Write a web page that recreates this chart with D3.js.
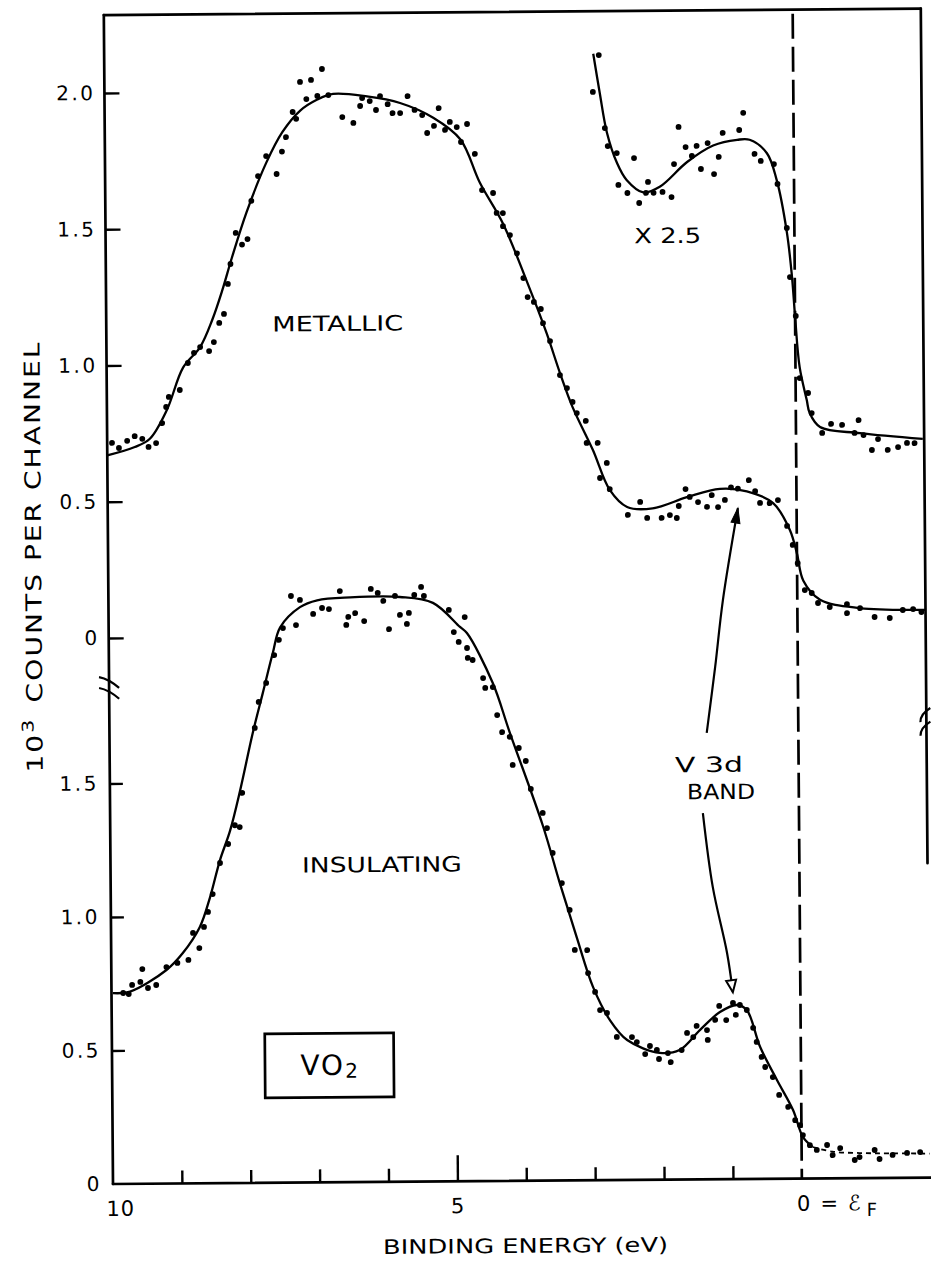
<!DOCTYPE html>
<html><head><meta charset="utf-8">
<script src="https://cdn.jsdelivr.net/npm/d3@7"></script>
<style>
html,body{margin:0;padding:0;background:#fff;}
svg{display:block;}
text{font-family:"DejaVu Sans",sans-serif;fill:#000;}
</style></head><body>
<svg id="chart" width="931" height="1265"></svg>
<script>
// ---------------- DATA ----------------
// binding energy (eV), value in 10^3 counts/channel (upper panel scale)
const metallicCurve = [[10.0,0.67],[9.6,0.70],[9.38,0.73],[9.13,0.835],[8.89,0.99],[8.64,1.065],[8.46,1.165],[8.31,1.274],[8.17,1.391],[7.95,1.559],[7.66,1.739],[7.42,1.852],[7.16,1.93],[6.91,1.97],[6.68,1.99],[6.19,1.98],[5.71,1.955],[5.23,1.90],[4.84,1.82],[4.56,1.66],[4.23,1.51],[3.88,1.29],[3.61,1.107],[3.42,0.96],[3.24,0.834],[2.95,0.676],[2.71,0.529],[2.46,0.466],[2.09,0.46],[1.59,0.50],[1.11,0.53],[0.72,0.52],[0.34,0.476],[0.10,0.377],[0.0,0.29],[-0.09,0.19],[-0.33,0.12],[-0.91,0.088],[-1.86,0.08]];
const metallicDots = [[9.93,0.716],[9.83,0.697],[9.71,0.723],[9.60,0.74],[9.49,0.73],[9.40,0.70],[9.29,0.714],[9.20,0.787],[9.14,0.846],[9.10,0.883],[8.94,0.908],[8.82,1.007],[8.73,1.044],[8.64,1.065],[8.51,1.05],[8.44,1.083],[8.36,1.153],[8.29,1.186],[8.23,1.296],[8.19,1.369],[8.11,1.483],[8.02,1.44],[7.94,1.46],[7.88,1.60],[7.78,1.691],[7.66,1.764],[7.51,1.698],[7.43,1.78],[7.37,1.833],[7.27,1.925],[7.22,1.90],[7.16,2.035],[7.07,1.972],[7.00,2.042],[6.91,1.983],[6.84,2.082],[6.75,1.986],[6.55,1.905],[6.39,1.883],[6.29,1.945],[6.26,1.974],[6.15,1.963],[6.06,1.93],[6.00,1.981],[5.89,1.951],[5.82,1.918],[5.71,1.918],[5.60,1.98],[5.50,1.929],[5.39,1.91],[5.32,1.844],[5.22,1.87],[5.15,1.935],[5.06,1.855],[4.99,1.884],[4.89,1.865],[4.83,1.81],[4.74,1.876],[4.63,1.766],[4.53,1.633],[4.37,1.622],[4.32,1.549],[4.23,1.548],[4.23,1.50],[4.13,1.467],[4.03,1.40],[3.94,1.309],[3.88,1.239],[3.79,1.221],[3.69,1.195],[3.66,1.143],[3.56,1.077],[3.42,0.952],[3.32,0.904],[3.24,0.853],[3.18,0.812],[3.05,0.783],[3.04,0.702],[2.88,0.702],[2.75,0.628],[2.85,0.573],[2.71,0.532],[2.45,0.437],[2.27,0.484],[2.17,0.425],[1.96,0.425],[1.84,0.435],[1.74,0.424],[1.71,0.468],[1.61,0.53],[1.55,0.501],[1.43,0.482],[1.30,0.464],[1.23,0.507],[1.14,0.463],[1.04,0.489],[0.95,0.535],[0.85,0.53],[0.69,0.561],[0.60,0.52],[0.53,0.477],[0.39,0.476],[0.27,0.487],[0.14,0.392],[0.06,0.322],[-0.01,0.255],[-0.11,0.156],[-0.21,0.145],[-0.30,0.108],[-0.47,0.093],[-0.72,0.103],[-0.72,0.07],[-0.91,0.088],[-1.12,0.055],[-1.34,0.051],[-1.53,0.08],[-1.68,0.083],[-1.80,0.072]];
// x 2.5 expanded metallic spectrum (upper panel scale)
const x25Curve = [[2.90,2.13],[2.81,1.986],[2.71,1.84],[2.57,1.73],[2.43,1.666],[2.19,1.62],[1.95,1.64],[1.55,1.73],[1.17,1.79],[0.82,1.81],[0.64,1.81],[0.39,1.76],[0.25,1.66],[0.11,1.47],[0.04,1.305],[0.0,1.16],[-0.06,0.975],[-0.16,0.853],[-0.20,0.806],[-0.35,0.754],[-0.93,0.73],[-1.84,0.707]];
const x25Dots = [[2.82,2.125],[2.91,1.99],[2.74,1.857],[2.70,1.791],[2.57,1.765],[2.32,1.746],[2.55,1.648],[2.42,1.618],[2.25,1.581],[2.12,1.658],[2.15,1.618],[2.04,1.618],[1.91,1.621],[1.78,1.602],[1.74,1.723],[1.67,1.859],[1.57,1.785],[1.48,1.752],[1.41,1.789],[1.35,1.704],[1.25,1.799],[1.16,1.685],[1.09,1.748],[1.03,1.836],[0.79,1.846],[0.73,1.909],[0.57,1.758],[0.48,1.732],[0.29,1.72],[0.24,1.647],[0.11,1.485],[0.07,1.305],[-0.01,1.162],[-0.06,0.934],[-0.18,0.879],[-0.23,0.805],[-0.38,0.732],[-0.51,0.765],[-0.67,0.761],[-0.91,0.778],[-0.85,0.731],[-0.98,0.723],[-1.10,0.668],[-1.19,0.708],[-1.33,0.668],[-1.48,0.678],[-1.61,0.693],[-1.72,0.692]];
// insulating spectrum (lower panel scale)
const insulatingCurve = [[9.98,0.715],[9.73,0.72],[9.20,0.80],[8.96,0.863],[8.71,0.96],[8.56,1.07],[8.41,1.21],[8.26,1.32],[8.11,1.47],[7.92,1.685],[7.77,1.834],[7.62,1.984],[7.51,2.08],[7.22,2.155],[6.97,2.18],[6.49,2.19],[5.77,2.19],[5.29,2.167],[4.90,2.076],[4.80,2.053],[4.43,1.865],[4.19,1.68],[3.72,1.33],[3.48,1.114],[3.24,0.91],[3.01,0.724],[2.77,0.60],[2.52,0.524],[2.05,0.475],[1.76,0.485],[1.46,0.56],[1.17,0.626],[0.92,0.652],[0.78,0.633],[0.59,0.494],[0.35,0.37],[0.12,0.257],[-0.02,0.156],[-0.16,0.118]];
const insulatingTail = [[-0.16,0.118],[-0.45,0.10],[-0.84,0.094],[-1.30,0.092],[-1.86,0.09]];
const insulatingDots = [[7.35,2.197],[7.22,2.182],[7.28,2.088],[7.47,2.077],[7.53,2.033],[7.60,1.976],[7.72,1.872],[7.83,1.801],[7.89,1.704],[8.08,1.461],[8.12,1.333],[8.19,1.34],[8.29,1.27],[8.41,1.199],[8.52,1.083],[8.59,1.016],[8.65,0.96],[8.81,0.938],[8.72,0.881],[8.88,0.837],[9.04,0.826],[9.20,0.811],[9.35,0.744],[9.47,0.733],[9.55,0.804],[9.58,0.756],[9.70,0.745],[9.75,0.711],[9.83,0.715],[7.03,2.129],[6.90,2.151],[6.80,2.147],[6.64,2.214],[6.52,2.117],[6.55,2.087],[6.42,2.131],[6.29,2.101],[6.19,2.221],[6.09,2.206],[6.01,2.176],[5.93,2.07],[5.84,2.194],[5.77,2.123],[5.67,2.089],[5.64,2.13],[5.56,2.197],[5.46,2.227],[5.42,2.193],[5.06,2.14],[4.99,2.057],[4.92,2.02],[4.83,2.113],[4.80,1.997],[4.79,1.96],[4.72,1.952],[4.57,1.884],[4.54,1.847],[4.43,1.85],[4.37,1.745],[4.30,1.681],[4.19,1.663],[4.15,1.558],[4.06,1.621],[3.96,1.572],[3.89,1.467],[3.72,1.377],[3.66,1.32],[3.58,1.227],[3.45,1.114],[3.34,1.013],[3.27,0.863],[3.09,0.862],[3.08,0.776],[2.98,0.705],[2.91,0.637],[2.81,0.626],[2.67,0.536],[2.45,0.535],[2.38,0.516],[2.19,0.501],[2.26,0.471],[2.09,0.486],[2.06,0.452],[1.89,0.44],[1.93,0.474],[1.73,0.485],[1.65,0.549],[1.56,0.533],[1.51,0.575],[1.35,0.522],[1.36,0.559],[1.24,0.597],[1.18,0.649],[1.08,0.596],[0.98,0.66],[0.88,0.652],[0.94,0.615],[0.78,0.633],[0.69,0.566],[0.64,0.513],[0.57,0.457],[0.52,0.419],[0.41,0.381],[0.32,0.314],[0.19,0.269],[0.09,0.219],[0.02,0.2],[-0.02,0.163],[-0.12,0.125],[-0.22,0.107],[-0.37,0.125],[-0.45,0.087],[-0.56,0.113],[-0.77,0.068],[-0.84,0.079],[-1.06,0.105],[-1.13,0.071],[-1.32,0.086],[-1.53,0.093],[-1.72,0.096]];
// annotation arrows (eV, lower-panel value)
const upArrow = [[1.33,1.672],[1.20,1.919],[1.08,2.169],[0.852,2.513]];
const downArrow = [[1.395,1.372],[1.26,1.095],[1.06,0.847],[0.98,0.70]];
// ticks
const xTickValues = [10,9,8,7,6,5,4,3,2,1];
const xTickLabels = ["10","","","","","5","","","",""];
const yTicksUpper = [0,0.5,1.0,1.5,2.0];
const yTickLabelsUpper = ["0","0.5","1.0","1.5","2.0"];
const yTicksLower = [0,0.5,1.0,1.5];
const yTickLabelsLower = ["0","0.5","1.0","1.5"];

// ---------------- CHART ----------------
const svg = d3.select("#chart");
svg.append("rect").attr("width",931).attr("height",1265).attr("fill","#fff");
const g = svg.append("g").attr("transform","rotate(-0.45,113,1184)");

const x  = d3.scaleLinear().domain([10,-1.86]).range([113,930]);
const yU = d3.scaleLinear().domain([0,2]).range([638,93]);
const yL = d3.scaleLinear().domain([0,1.5]).range([1184,783.5]);
const topV = 2.286;

// frame
const frame = g.append("g").attr("stroke","#000").attr("stroke-width",2.7).attr("fill","none").attr("stroke-linecap","round");
frame.append("line").attr("x1",x(10)).attr("x2",x(10)).attr("y1",yU(topV)).attr("y2",yL(0));
frame.append("line").attr("x1",x(10)).attr("x2",x(-1.86)).attr("y1",yU(topV)).attr("y2",yU(topV));
frame.append("line").attr("x1",x(-1.86)).attr("x2",x(-1.86)).attr("y1",yU(topV)).attr("y2",yU(-0.85));
frame.append("line").attr("x1",x(10)).attr("x2",935).attr("y1",yL(0)).attr("y2",yL(0));

// axis breaks
const brk = g.append("g").attr("stroke","#000").attr("stroke-width",2.2).attr("fill","none");
[-0.165,-0.205].forEach(v=>{
  const cx=x(10), cy=yU(v);
  brk.append("path").attr("d",`M${cx-10},${cy-6} Q${cx},${cy-4} ${cx+10},${cy+5}`);
});
[-0.31,-0.36].forEach(v=>{
  const cx=x(-1.86), cy=yU(v);
  brk.append("path").attr("d",`M${cx+4},${cy-8} Q${cx-6},${cy-2} ${cx-6},${cy+6}`);
});

// Fermi level dashed line
g.append("line").attr("x1",x(0)).attr("x2",x(0)).attr("y1",yU(topV)+4).attr("y2",yL(0))
  .attr("stroke","#000").attr("stroke-width",2.7).attr("stroke-dasharray","25,8");

// axes
function styleAxis(sel,fs){
  sel.select(".domain").remove();
  sel.attr("font-family","DejaVu Sans, sans-serif").attr("font-size",fs);
  sel.selectAll(".tick line").attr("stroke","#000").attr("stroke-width",2.4);
  sel.selectAll(".tick text").attr("fill","#000").attr("letter-spacing",2.5);
}
const gU = g.append("g").attr("transform",`translate(${x(10)},0)`)
  .call(d3.axisLeft(yU).tickValues(yTicksUpper).tickSize(-15).tickPadding(9).tickFormat((d,i)=>yTickLabelsUpper[i]));
styleAxis(gU,20);
const gL = g.append("g").attr("transform",`translate(${x(10)},0)`)
  .call(d3.axisLeft(yL).tickValues(yTicksLower).tickSize(-13).tickPadding(11).tickFormat((d,i)=>yTickLabelsLower[i]));
styleAxis(gL,20);
gL.selectAll(".tick line").attr("x2",d=>d===0?0:13);

const gB = g.append("g").attr("transform",`translate(0,${yL(0)})`)
  .call(d3.axisBottom(x).tickValues(xTickValues).tickSize(-13).tickPadding(17).tickFormat((d,i)=>xTickLabels[i]));
styleAxis(gB,21);
gB.selectAll(".tick line").attr("y2",d=>d===10?0:(d===5?-26:-13));
gB.selectAll(".tick text").attr("dx",d=>d===10?7:0).attr("letter-spacing",1);

// 0 = E_F label
const ef = g.append("text").attr("x",x(0)-5).attr("y",yL(0)+32).attr("font-size",21);
ef.append("tspan").text("0");
ef.append("tspan").attr("dx",10).text("=");
ef.append("tspan").attr("dx",10).text("ℰ");
ef.append("tspan").attr("dx",6).attr("dy",6).attr("font-size",18).text("F");

// axis titles
g.append("text").attr("x",525).attr("y",1256).attr("text-anchor","middle").attr("font-size",20)
  .attr("textLength",285).attr("lengthAdjust","spacingAndGlyphs").text("BINDING ENERGY (eV)");
const yt = g.append("text").attr("transform","translate(46,556) rotate(-90)").attr("text-anchor","middle").attr("font-size",22)
  .attr("letter-spacing",1.5).attr("textLength",432).attr("lengthAdjust","spacingAndGlyphs");
yt.append("tspan").text("10");
yt.append("tspan").attr("dy",-9).attr("font-size",16).text("3");
yt.append("tspan").attr("dy",9).attr("dx",12).text("COUNTS PER CHANNEL");

// curves
const lineU = d3.line().x(d=>x(d[0])).y(d=>yU(d[1])).curve(d3.curveCatmullRom.alpha(0.5));
const lineL = d3.line().x(d=>x(d[0])).y(d=>yL(d[1])).curve(d3.curveCatmullRom.alpha(0.5));
g.append("path").attr("d",lineU(metallicCurve)).attr("fill","none").attr("stroke","#000").attr("stroke-width",2.3);
g.append("path").attr("d",lineU(x25Curve)).attr("fill","none").attr("stroke","#000").attr("stroke-width",2.3);
g.append("path").attr("d",lineL(insulatingCurve)).attr("fill","none").attr("stroke","#000").attr("stroke-width",2.3);
g.append("path").attr("d",lineL(insulatingTail)).attr("fill","none").attr("stroke","#000").attr("stroke-width",1.8).attr("stroke-dasharray","5,4");

// dots
function dots(data,ys){
  g.append("g").selectAll("circle").data(data).join("circle")
    .attr("cx",d=>x(d[0])).attr("cy",d=>ys(d[1])).attr("r",2.9).attr("fill","#000");
}
dots(metallicDots,yU); dots(x25Dots,yU); dots(insulatingDots,yL);

// labels
function label(txt,ev,v,ys,fs,len){
  const t=g.append("text").attr("x",x(ev)).attr("y",ys(v)).attr("text-anchor","middle")
    .attr("dominant-baseline","central").attr("font-size",fs).text(txt);
  if(len) t.attr("textLength",len).attr("lengthAdjust","spacingAndGlyphs");
  return t;
}
label("METALLIC",6.64,1.146,yU,21,131);
label("X 2.5",1.84,1.459,yU,21,67);
label("INSULATING",6.06,1.187,yL,21,160);
label("V  3d",1.30,1.552,yL,21,68);
label("BAND",1.13,1.45,yL,21,68);

// VO2 box
g.append("rect").attr("x",x(7.78)).attr("y",yL(0.558)).attr("width",x(5.91)-x(7.78)).attr("height",yL(0.318)-yL(0.558))
  .attr("fill","none").attr("stroke","#000").attr("stroke-width",2.7);
const vo = g.append("text").attr("x",x(6.85)).attr("y",yL(0.44)).attr("text-anchor","middle")
  .attr("dominant-baseline","central").attr("font-size",28);
vo.append("tspan").attr("letter-spacing",2).text("VO");
vo.append("tspan").attr("dy",6).attr("font-size",20).text("2");

// arrows
const arrowLine = d3.line().x(d=>x(d[0])).y(d=>yL(d[1])).curve(d3.curveCatmullRom.alpha(0.5));
function head(data,len,wid){
  const n=data.length, p1=[x(data[n-2][0]),yL(data[n-2][1])], p2=[x(data[n-1][0]),yL(data[n-1][1])];
  const dx=p2[0]-p1[0], dy=p2[1]-p1[1], L=Math.hypot(dx,dy), ux=dx/L, uy=dy/L;
  const bx=p2[0]-ux*len, by=p2[1]-uy*len;
  return [[p2[0],p2[1]],[bx-uy*wid/2,by+ux*wid/2],[bx+uy*wid/2,by-ux*wid/2]];
}
g.append("path").attr("d",arrowLine(upArrow)).attr("fill","none").attr("stroke","#000").attr("stroke-width",2.2);
g.append("polygon").attr("points",head(upArrow,15,9).join(" ")).attr("fill","#000").attr("stroke","#000").attr("stroke-width",1);
g.append("path").attr("d",arrowLine(downArrow)).attr("fill","none").attr("stroke","#000").attr("stroke-width",2.2);
g.append("polygon").attr("points",head(downArrow,12,10).join(" ")).attr("fill","#fff").attr("stroke","#000").attr("stroke-width",2);
</script>
</body></html>
